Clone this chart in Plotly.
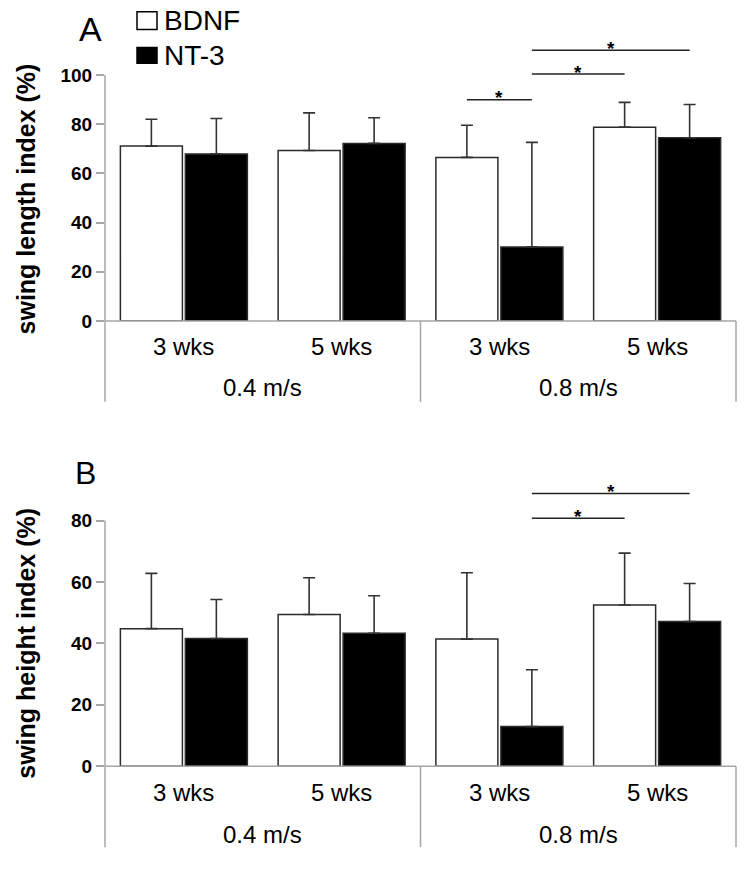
import plotly.graph_objects as go

W, H = 746, 869
FONT = "Liberation Sans, Arial, sans-serif"

# ---------------- data ----------------
weeks = ["3 wks", "5 wks", "3 wks", "5 wks"]
speeds = ["0.4 m/s", "0.8 m/s"]
series_names = ["BDNF", "NT-3"]

len_bdnf = [71.1, 69.3, 66.5, 78.8]
len_bdnf_sd = [10.9, 15.3, 13.1, 10.1]
len_nt3 = [67.9, 72.2, 30.1, 74.5]
len_nt3_sd = [14.4, 10.4, 42.5, 13.5]

hgt_bdnf = [44.8, 49.4, 41.4, 52.5]
hgt_bdnf_sd = [18.0, 12.0, 21.6, 16.9]
hgt_nt3 = [41.6, 43.3, 12.9, 47.1]
hgt_nt3_sd = [12.7, 12.2, 18.5, 12.4]

# significance brackets: (category, series) -> (category, series), level
len_sig = [((2, 0), (2, 1), 89.9), ((2, 1), (3, 0), 100.4), ((2, 1), (3, 1), 110.1)]
hgt_sig = [((2, 1), (3, 0), 80.8), ((2, 1), (3, 1), 88.8)]

len_ticks = [0, 20, 40, 60, 80, 100]
hgt_ticks = [0, 20, 40, 60, 80]

# ---------------- layout helpers ----------------
def px2x(p):
    return p / W

def py2y(p):
    return 1 - p / H

BARGAP = 0.176
SLOT = (1 - BARGAP) / 2
x_idx = list(range(len(weeks)))

def bar_x(cat, s):
    return cat + (s - 0.5) * SLOT

panels = [
    dict(name="A", xa="x", ya="y", means=[len_bdnf, len_nt3], sds=[len_bdnf_sd, len_nt3_sd],
         sig=len_sig, ticks=len_ticks, zero_px=325, ppu=2.49, ymax=115,
         title="swing length index (%)", title_y=202, letter_xy=(90, 29), letter_size=34,
         wk_y=351, sp_y=392, sep_bottom=407),
    dict(name="B", xa="x2", ya="y2", means=[hgt_bdnf, hgt_nt3], sds=[hgt_bdnf_sd, hgt_nt3_sd],
         sig=hgt_sig, ticks=hgt_ticks, zero_px=776, ppu=3.109, ymax=95,
         title="swing height index (%)", title_y=652, letter_xy=(85, 479), letter_size=32,
         wk_y=803, sp_y=845, sep_bottom=858),
]

fig = go.Figure()
fills = ["white", "black"]
shapes, annos = [], []
AX_COL = "#a6a6a6"
X0_PX, X1_PX = 105, 736
layout = {}

for k, P in enumerate(panels):
    for s in range(2):
        fig.add_trace(go.Bar(
            x=x_idx, y=P["means"][s], name=series_names[s], xaxis=P["xa"], yaxis=P["ya"],
            marker=dict(color=fills[s], line=dict(color="#2b2b2b", width=1.5)),
            error_y=dict(type="data", array=P["sds"][s], arrayminus=[0] * len(x_idx),
                         symmetric=False, color="#333333", thickness=1.6, width=6),
            showlegend=False,
        ))
    top_px = P["zero_px"] - P["ymax"] * P["ppu"]
    ydom = [py2y(P["zero_px"]), py2y(top_px)]
    xsuf = "" if k == 0 else "2"
    layout["xaxis" + xsuf] = dict(domain=[px2x(X0_PX), px2x(X1_PX)], range=[-0.5, 3.5],
                                  showticklabels=False, showgrid=False, zeroline=False,
                                  showline=False, ticks="", anchor="y" + xsuf)
    layout["yaxis" + xsuf] = dict(domain=ydom, range=[0, P["ymax"]], tickvals=P["ticks"],
                                  ticks="outside", ticklen=8, tickwidth=1.5, tickcolor=AX_COL,
                                  showgrid=False, zeroline=False, showline=False,
                                  tickfont=dict(family=FONT, size=19, color="black", weight="bold"),
                                  anchor="x" + xsuf)
    xl, xr = px2x(X0_PX), px2x(X1_PX)
    y0p = ydom[0]
    ytop_p = py2y(P["zero_px"] - P["ticks"][-1] * P["ppu"])
    ybot_p = py2y(P["sep_bottom"])
    # y axis line + bottom baseline
    shapes.append(dict(type="line", xref="paper", yref="paper", x0=xl, x1=xl, y0=ybot_p, y1=ytop_p,
                       line=dict(color=AX_COL, width=1.5)))
    shapes.append(dict(type="line", xref="paper", yref="paper", x0=xl, x1=xr, y0=y0p, y1=y0p,
                       line=dict(color=AX_COL, width=1.5)))
    # group separators
    for xs in [px2x((X0_PX + X1_PX) / 2), xr]:
        shapes.append(dict(type="line", xref="paper", yref="paper", x0=xs, x1=xs, y0=ybot_p, y1=y0p,
                           line=dict(color=AX_COL, width=1.5)))
    # category labels
    for i, w in enumerate(weeks):
        annos.append(dict(x=i, y=py2y(P["wk_y"]), xref=P["xa"], yref="paper", text=w,
                          showarrow=False, xanchor="center", yanchor="middle",
                          font=dict(family=FONT, size=24, color="black")))
    for j, sp in enumerate(speeds):
        annos.append(dict(x=2 * j + 0.5, y=py2y(P["sp_y"]), xref=P["xa"], yref="paper", text=sp,
                          showarrow=False, xanchor="center", yanchor="middle",
                          font=dict(family=FONT, size=24, color="black")))
    # significance brackets
    for (c0, s0), (c1, s1), lvl in P["sig"]:
        xa0, xa1 = bar_x(c0, s0), bar_x(c1, s1)
        shapes.append(dict(type="line", xref=P["xa"], yref=P["ya"], x0=xa0, x1=xa1, y0=lvl, y1=lvl,
                           line=dict(color="#222222", width=1.5)))
        annos.append(dict(x=(xa0 + xa1) / 2, y=lvl, xref=P["xa"], yref=P["ya"], text="*",
                          showarrow=False, xanchor="center", yanchor="middle", yshift=2,
                          font=dict(family=FONT, size=19, color="black", weight="bold")))
    # axis title
    annos.append(dict(x=px2x(26), y=py2y(P["title_y"]), xref="paper", yref="paper",
                      text=P["title"], textangle=-90, showarrow=False,
                      xanchor="center", yanchor="middle",
                      font=dict(family=FONT, size=25, color="black", weight="bold")))
    # panel letter
    lx, ly = P["letter_xy"]
    annos.append(dict(x=px2x(lx), y=py2y(ly), xref="paper", yref="paper", text=P["name"],
                      showarrow=False, xanchor="center", yanchor="middle",
                      font=dict(family=FONT, size=P["letter_size"], color="black")))

# legend (drawn manually)
leg_items = [(12, 30, "white"), (48, 64, "black")]
for (t, b, col), nm in zip(leg_items, series_names):
    shapes.append(dict(type="rect", xref="paper", yref="paper", x0=px2x(137), x1=px2x(157),
                       y0=py2y(b), y1=py2y(t), fillcolor=col, line=dict(color="black", width=1.5)))
    annos.append(dict(x=px2x(162), y=py2y((t + b) / 2), xref="paper", yref="paper", text=nm,
                      showarrow=False, xanchor="left", yanchor="middle",
                      font=dict(family=FONT, size=28, color="black")))

fig.update_layout(
    width=W, height=H, margin=dict(l=0, r=0, t=0, b=0),
    paper_bgcolor="white", plot_bgcolor="white",
    barmode="group", bargap=BARGAP, bargroupgap=0.046,
    shapes=shapes, annotations=annos, **layout,
)

fig.write_html(
    "out.html",
    config={"displayModeBar": False},
    post_script=(
        "document.body.style.margin='0';"
        "document.body.style.overflow='hidden';"
    ),
)
